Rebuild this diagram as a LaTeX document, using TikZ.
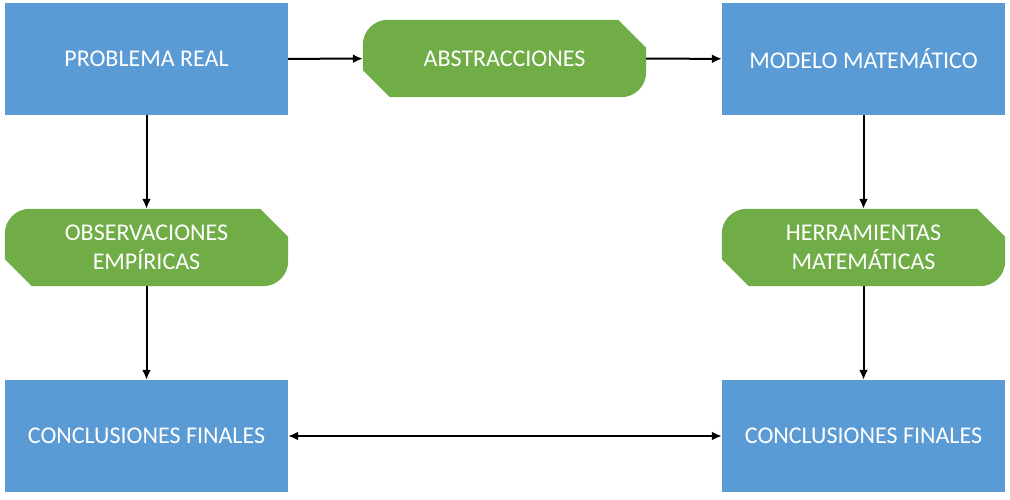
\documentclass[tikz,border=0pt]{standalone}
\usepackage{fontspec}
\setmainfont{Carlito}
\usetikzlibrary{arrows.meta}
\usetikzlibrary{backgrounds}

\definecolor{boxblue}{HTML}{5B9BD5}
\definecolor{boxgreen}{HTML}{70AD47}

\begin{document}
\begin{tikzpicture}[x=1pt, y=1pt, >={Latex[length=10pt,width=9pt]},
	bluebox/.style={fill=boxblue, text=white, minimum width=283pt, minimum height=112pt, inner sep=0pt, align=center, font=\fontsize{24}{29}\selectfont},
	greenbox/.style={text=white, minimum width=283pt, minimum height=77pt, inner sep=0pt, align=center, font=\fontsize{24}{29}\selectfont},
	greenfill/.style={fill=boxgreen},
	link/.style={line width=2pt}]

	\useasboundingbox (0,0) rectangle (1010,500);

	% blue boxes
	\node [bluebox] (prob) at (146.5,441) {PROBLEMA REAL};
	\node [bluebox] (model) at (863.5,441) {MODELO MATEMÁTICO};
	\node [bluebox] (concl) at (146.5,64) {CONCLUSIONES FINALES};
	\node [bluebox] (concr) at (863.5,64) {CONCLUSIONES FINALES};

	% green boxes
	\node [greenbox] (abs) at (504.5,441.5) {ABSTRACCIONES};
	\node [greenbox] (obs) at (146.5,252.5) {OBSERVACIONES\\EMPÍRICAS};
	\node [greenbox] (herr) at (863.5,252.5) {HERRAMIENTAS\\MATEMÁTICAS};

	\begin{scope}[on background layer]
	\fill [greenfill] (abs.north west) ++(0,-25) arc (180:90:25) -- ([xshift=-28]abs.north east) -- ([yshift=-28]abs.north east) -- ([yshift=25]abs.south east) arc (0:-90:25) -- ([xshift=27]abs.south west) -- ([yshift=27]abs.south west) -- cycle;
	\fill [greenfill] (obs.north west) ++(0,-25) arc (180:90:25) -- ([xshift=-28]obs.north east) -- ([yshift=-28]obs.north east) -- ([yshift=25]obs.south east) arc (0:-90:25) -- ([xshift=27]obs.south west) -- ([yshift=27]obs.south west) -- cycle;
	\fill [greenfill] (herr.north west) ++(0,-25) arc (180:90:25) -- ([xshift=-28]herr.north east) -- ([yshift=-28]herr.north east) -- ([yshift=25]herr.south east) arc (0:-90:25) -- ([xshift=27]herr.south west) -- ([yshift=27]herr.south west) -- cycle;
	\end{scope}

	% connectors
	\draw [link, ->] (prob) -- (abs);
	\draw [link, ->] (abs) -- (model);
	\draw [link, ->] (prob) -- (obs);
	\draw [link, ->] (obs) -- (concl);
	\draw [link, ->] (model) -- (herr);
	\draw [link, ->] (herr) -- (concr);
	\draw [link, <->] (concl) -- (concr);

\end{tikzpicture}
\end{document}
